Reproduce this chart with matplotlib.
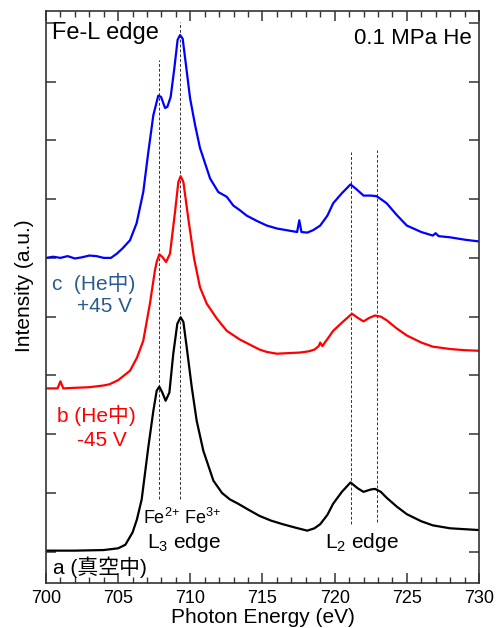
import matplotlib
matplotlib.use("Agg")
import matplotlib.pyplot as plt
from matplotlib.ticker import MultipleLocator

plt.rcParams['font.family'] = ['Liberation Sans', 'Noto Sans CJK JP', 'DejaVu Sans']
plt.rcParams['mathtext.fontset'] = 'custom'
plt.rcParams['mathtext.rm'] = 'Liberation Sans'
plt.rcParams['mathtext.it'] = 'Liberation Sans:italic'

# ---- data ----
E_a = [700, 702, 704, 705, 705.5, 706, 706.3, 706.63, 707.09, 707.44, 707.67, 707.85, 708.06, 708.29,
       708.55, 708.82, 709.1, 709.33, 709.52, 709.75, 710.1, 710.44, 710.9, 711.6, 712.2, 712.75,
       713.3, 714.0, 714.8, 715.6, 716.4, 717.3, 718.1, 718.6, 719.0, 719.5, 719.9, 720.5, 721.1, 721.6,
       722.0, 722.5, 722.8, 723.2, 723.6, 724.3, 725.0, 726.0, 726.8, 728, 730]
I_a = [0.02, 0.02, 0.03, 0.06, 0.12, 0.33, 0.55, 0.89, 1.78, 2.40, 2.74, 2.81, 2.71, 2.57,
       2.71, 3.37, 3.88, 3.99, 3.91, 3.48, 2.80, 2.23, 1.72, 1.21, 1.0, 0.89,
       0.82, 0.72, 0.61, 0.53, 0.47, 0.41, 0.36, 0.4, 0.47, 0.63, 0.82, 1.02, 1.18, 1.08,
       1.02, 1.06, 1.07, 1.02, 0.92, 0.77, 0.64, 0.52, 0.45, 0.40, 0.37]

E_b = [700, 700.8, 701.0, 701.2, 702, 703, 704, 704.4, 705, 705.82, 706.3, 706.74, 707.2, 707.55,
       707.67, 707.85, 708.05, 708.32, 708.59, 708.94, 709.17, 709.33, 709.52, 709.86, 710.26,
       710.67, 711.14, 711.83, 712.52, 713.44, 714.0, 714.8, 715.3, 716.0, 716.8,
       717.6, 718.2, 718.6, 718.9, 719.0, 719.15, 719.5, 719.9, 720.6, 721.2, 721.6, 722.0, 722.4,
       722.8, 723.2, 723.6, 724.3, 725.0, 726.0, 726.8, 728, 729, 730]
I_b = [2.78, 2.78, 2.9, 2.78, 2.79, 2.8, 2.83, 2.85, 2.92, 3.08, 3.3, 3.59, 4.22, 4.79,
       4.93, 5.06, 5.02, 4.93, 5.07, 5.78, 6.29, 6.39, 6.29, 5.67, 4.99,
       4.50, 4.22, 3.97, 3.76, 3.61, 3.54, 3.44, 3.40, 3.37, 3.38,
       3.39, 3.41, 3.44, 3.5, 3.56, 3.5, 3.62, 3.76, 3.92, 4.05, 3.98, 3.92, 3.98,
       4.02, 4.0, 3.94, 3.8, 3.68, 3.56, 3.49, 3.45, 3.43, 3.42]

E_c = [700, 700.5, 701, 701.5, 702, 702.5, 703, 703.5, 704, 704.5, 704.9, 705.3, 705.82, 706.28,
       706.74, 707.09, 707.44, 707.78, 707.97, 708.25, 708.41, 708.64, 708.89, 709.12, 709.29,
       709.47, 709.7, 709.98, 710.33, 710.67, 711.37, 711.94, 712.52, 712.98, 713.44, 713.9, 714.6, 715.3,
       716.0, 716.7, 717.4, 717.55, 717.7, 718.1, 718.5, 719.0, 719.5, 719.9, 720.5, 721.1, 721.5,
       722.0, 722.5, 722.9, 723.2, 723.6, 724.3, 725.0, 726.0, 726.8, 727.0, 727.2, 728, 729, 730]
I_c = [5.0, 5.02, 5.0, 5.03, 4.99, 5.01, 5.04, 5.03, 5.0, 5.0, 5.07, 5.16, 5.30, 5.59,
       6.12, 6.80, 7.43, 7.76, 7.74, 7.55, 7.57, 7.74, 8.22, 8.71, 8.79,
       8.73, 8.28, 7.72, 7.26, 6.87, 6.35, 6.12, 6.04, 5.89, 5.81, 5.72, 5.63, 5.55,
       5.5, 5.47, 5.44, 5.64, 5.44, 5.43, 5.47, 5.55, 5.72, 5.93, 6.1, 6.25, 6.17,
       6.06, 6.06, 6.05, 6.0, 5.93, 5.73, 5.55, 5.44, 5.38, 5.42, 5.37, 5.35, 5.31, 5.28]

# reference lines: energy, ymin, ymax
ref_E = [707.8, 709.3, 721.15, 722.95]
ref_y0 = [0.89, 0.89, 0.48, 0.50]
ref_y1 = [8.36, 9.01, 6.80, 6.83]

xticks = [700, 705, 710, 715, 720, 725, 730]

fig = plt.figure(figsize=(4.96, 6.28), dpi=100)
ax = fig.add_axes([0.0927, 0.0717, 0.8730, 0.9108])

for e, a, b in zip(ref_E, ref_y0, ref_y1):
    ax.plot([e, e], [a, b], color='#333333', lw=0.7, ls=(0, (3, 2)))

ax.plot(E_a, I_a, color='black', lw=1.6)
ax.plot(E_b, I_b, color='#ff0000', lw=1.6)
ax.plot(E_c, I_c, color='#0000ff', lw=1.6)

ax.set_xlim(700, 730)
ax.set_ylim(-0.53, 9.2)
ax.set_xticks(xticks)
ax.xaxis.set_minor_locator(MultipleLocator(1))
ax.set_yticks(range(0, 10))
ax.set_yticklabels([])
ax.tick_params(which='both', direction='in', top=True, right=True, color='#333333')
ax.tick_params(which='major', length=7, width=1.1, labelsize=13, pad=5)
ax.tick_params(which='minor', length=4, width=1.0)
for s in ax.spines.values():
    s.set_color('#333333')
    s.set_linewidth(1.2)

ax.set_xlabel('Photon Energy (eV)', fontsize=15, labelpad=1)
ax.set_ylabel('Intensity (a.u.)', fontsize=15)
ax.yaxis.set_label_coords(-0.027, 0.52)

ax.text(700.42, 8.82, 'Fe-L edge', fontsize=17, ha='left', va='center')
ax.text(729.52, 8.74, '0.1 MPa He', fontsize=16, ha='right', va='center')

cblue = '#2b5b8e'
ax.text(706.17, 4.57, 'c  (He中)', fontsize=15, ha='right', va='center', color=cblue)
ax.text(705.96, 4.17, '+45 V', fontsize=15, ha='right', va='center', color=cblue)
ax.text(706.24, 2.32, 'b (He中)', fontsize=15, ha='right', va='center', color='#ff0000')
ax.text(705.61, 1.89, '-45 V', fontsize=15, ha='right', va='center', color='#ff0000')
ax.text(700.49, -0.27, 'a (真空中)', fontsize=15, ha='left', va='center', color='black')

ax.text(706.72, 0.58, 'Fe$^{2{+}}$ Fe$^{3{+}}$', fontsize=13, ha='left', va='center')
ax.text(707.0, 0.15, 'L$_3$ edge', fontsize=15, ha='left', va='center')
ax.text(719.33, 0.15, 'L$_2$ edge', fontsize=15, ha='left', va='center')

fig.savefig('out.png', dpi=100)
